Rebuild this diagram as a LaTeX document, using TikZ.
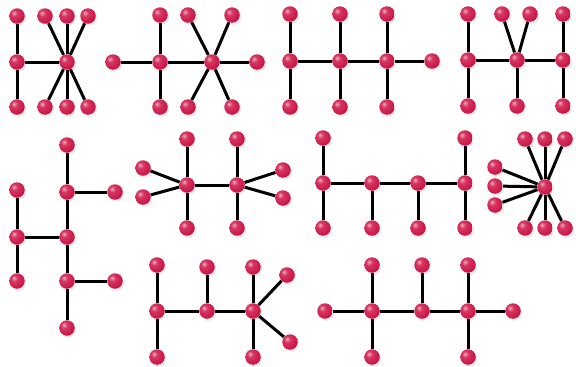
\documentclass[tikz,border=0pt]{standalone}
\usepackage{tikz}
\usetikzlibrary{shadows, backgrounds}
\usepackage{xcolor}
\definecolor{berry}{RGB}{205, 20, 70}
\pgfdeclareradialshading{berryball}{\pgfpoint{-10bp}{10bp}}{%
    color(0bp)=(berry!35!white); color(10bp)=(berry!85!white);
    color(30bp)=(berry); color(50bp)=(berry!80!black);
    color(100bp)=(berry!80!black)}

\begin{document}
\begin{tikzpicture}[
        x=1pt, y=-1pt,
        vtx/.style={circle, inner sep=0pt, minimum size=15.5pt,
                    shading=berryball,
                    circular drop shadow={shadow xshift=1pt, shadow yshift=-1.5pt, opacity=0.15}},
        link/.style={line width=3pt, black},
    ]
        \useasboundingbox (0,0) rectangle (576,367);
        \begin{scope}[on background layer]
            \fill[white] (0,0) rectangle (576,367);
        \end{scope}

        % top row
        \foreach \n/\x/\y in {1/17/16, 2/17/62, 3/17/107, 4/67/62, 5/45/16,
                              6/67/16, 7/88/16, 8/45/107, 9/67/107, 10/88/107}
            \node[vtx] (a\n) at (\x,\y) {};
        \foreach \n/\x/\y in {1/113/62, 2/160/62, 3/160/15, 4/160/107, 5/212/62,
                              6/188/15, 7/232/15, 8/188/107, 9/232/107, 10/257/62}
            \node[vtx] (b\n) at (\x,\y) {};
        \foreach \n/\x/\y in {1/290/14, 2/290/61, 3/290/107, 4/340/14, 5/340/61,
                              6/340/107, 7/387/14, 8/387/61, 9/387/107, 10/432/61}
            \node[vtx] (c\n) at (\x,\y) {};
        \foreach \n/\x/\y in {1/468/14, 2/468/60, 3/468/106, 4/502/14, 5/530/14,
                              6/517/60, 7/517/106, 8/563/14, 9/563/60, 10/563/106}
            \node[vtx] (d\n) at (\x,\y) {};

        % middle row
        \foreach \n/\x/\y in {1/67/145, 2/67/192, 3/115/192, 4/17/190, 5/17/237,
                              6/67/237, 7/17/281, 8/67/281, 9/115/281, 10/67/328}
            \node[vtx] (e\n) at (\x,\y) {};
        \foreach \n/\x/\y in {1/187/139, 2/143/168, 3/143/197, 4/187/185, 5/187/228,
                              6/237/139, 7/237/185, 8/237/228, 9/283/170, 10/283/198}
            \node[vtx] (f\n) at (\x,\y) {};
        \foreach \n/\x/\y in {1/323/138, 2/323/183, 3/323/228, 4/372/183, 5/372/228,
                              6/418/183, 7/418/228, 8/465/138, 9/465/183, 10/465/228}
            \node[vtx] (g\n) at (\x,\y) {};
        \foreach \n/\x/\y in {1/545/187, 2/525/139, 3/545/139, 4/565/139, 5/495/167,
                              6/495/186, 7/495/205, 8/525/228, 9/545/228, 10/565/228}
            \node[vtx] (h\n) at (\x,\y) {};

        % bottom row
        \foreach \n/\x/\y in {1/157/265, 2/157/311, 3/157/357, 4/207/267, 5/207/311,
                              6/253/267, 7/253/311, 8/253/357, 9/287/275, 10/290/342}
            \node[vtx] (i\n) at (\x,\y) {};
        \foreach \n/\x/\y in {1/325/311, 2/372/265, 3/372/311, 4/372/357, 5/422/265,
                              6/422/311, 7/468/265, 8/468/311, 9/468/357, 10/513/311}
            \node[vtx] (j\n) at (\x,\y) {};

        % edges go under the balls
        \begin{scope}[on background layer]
            \foreach \u/\v in {1/2, 2/3, 2/4, 4/5, 4/6, 4/7, 4/8, 4/9, 4/10}
                \draw[link] (a\u) -- (a\v);
            \foreach \u/\v in {1/2, 2/3, 2/4, 2/5, 5/6, 5/7, 5/8, 5/9, 5/10}
                \draw[link] (b\u) -- (b\v);
            \foreach \u/\v in {1/2, 2/3, 2/5, 4/5, 5/6, 5/8, 7/8, 8/9, 8/10}
                \draw[link] (c\u) -- (c\v);
            \foreach \u/\v in {1/2, 2/3, 2/6, 4/6, 5/6, 6/7, 6/9, 8/9, 9/10}
                \draw[link] (d\u) -- (d\v);
            \foreach \u/\v in {1/2, 2/3, 2/6, 4/5, 5/6, 5/7, 6/8, 8/9, 8/10}
                \draw[link] (e\u) -- (e\v);
            \foreach \u/\v in {1/4, 2/4, 3/4, 4/5, 4/7, 6/7, 7/8, 7/9, 7/10}
                \draw[link] (f\u) -- (f\v);
            \foreach \u/\v in {1/2, 2/3, 2/4, 4/5, 4/6, 6/7, 6/9, 8/9, 9/10}
                \draw[link] (g\u) -- (g\v);
            \foreach \v in {2,...,10}
                \draw[link] (h1) -- (h\v);
            \foreach \u/\v in {1/2, 2/3, 2/5, 4/5, 5/7, 6/7, 7/8, 7/9, 7/10}
                \draw[link] (i\u) -- (i\v);
            \foreach \u/\v in {1/3, 2/3, 3/4, 3/6, 5/6, 6/8, 7/8, 8/9, 8/10}
                \draw[link] (j\u) -- (j\v);
        \end{scope}

    \end{tikzpicture}
\end{document}
